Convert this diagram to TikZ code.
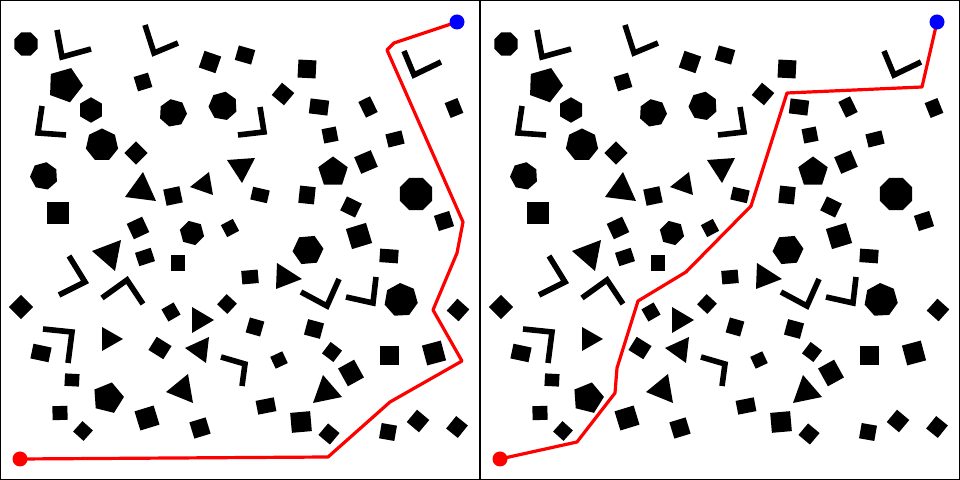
\documentclass[tikz,border=0pt]{standalone}
\newcommand\rpoly[5]{\fill[shift={(#1,#2)}] (#5:#4) \foreach \k in {1,...,#3}{ -- ({#5+\k*360/#3}:#4)} -- cycle;}
\newcommand\rr[5]{\fill[shift={(#1,#2)},rotate=-#5] (-#3/2,-#4/2) rectangle (#3/2,#4/2);}
\newcommand\tri[3]{\fill (#1) -- (#2) -- (#3) -- cycle;}
\newcommand\lsh[3]{\draw[lbar] (#1) -- (#2) -- (#3);}
\newcommand\obstacles{%
\rpoly{26}{44}{8}{12.5}{22.5}
\rpoly{65}{85}{5}{18}{-70}
\rpoly{91}{110}{6}{12.7}{-90}
\rpoly{173}{113}{7}{14}{-100}
\rpoly{223}{106}{7}{14.5}{-80}
\rpoly{102}{145}{7}{16.5}{-90}
\rpoly{44}{176}{7}{14}{-80}
\rpoly{192}{233}{6}{12.5}{15}
\rpoly{308}{250}{6}{15.5}{-5}
\rpoly{333}{172}{5}{15.5}{-90}
\rpoly{416}{194}{8}{17.5}{22.5}
\rpoly{401}{300}{7}{17}{-93}
\rpoly{108}{398}{5}{16}{-76}
\rr{210}{62}{17.6}{17.6}{19}
\rr{143}{82}{15}{15}{-17}
\rr{136}{153}{16.5}{16.5}{45}
\rr{58}{213}{22}{22}{0}
\rr{173}{196}{16.5}{16.5}{-12}
\rr{138}{228}{17}{17}{-25}
\rr{230}{228}{13.5}{13.5}{-28}
\rr{245}{55}{17}{15}{16}
\rr{307}{69}{18}{18}{3}
\rr{283}{94}{16}{16}{40}
\rr{319}{107}{18.7}{15}{7}
\rr{368}{107}{13}{17.5}{-26}
\rr{330}{135}{14.5}{14.5}{-11}
\rr{395}{139}{16.5}{13.5}{-14}
\rr{454}{108}{13.7}{16}{-22}
\rr{366}{162}{18}{18}{-23}
\rr{260}{195}{17}{13}{13}
\rr{307}{195}{15.7}{17.3}{6}
\rr{351}{207}{16.5}{15.5}{26}
\rr{444}{221}{16}{16}{-18}
\rr{145}{257}{16.5}{14}{-18}
\rr{178}{263}{14.7}{16.7}{0}
\rr{21}{307}{17}{17}{45}
\rr{171}{312}{14}{14}{-30}
\rr{227}{304}{14}{14}{43}
\rr{41}{353}{18.5}{15}{12}
\rr{160}{348}{17.5}{15.5}{32}
\rr{72}{380}{14.5}{12.5}{3}
\rr{60}{413}{15}{14}{-2}
\rr{147}{418}{20}{20}{-17}
\rr{83}{431}{14}{14}{42}
\rr{200}{428}{17}{17}{-17}
\rr{359}{236}{21}{21}{-17}
\rr{389}{256}{18.5}{13.5}{4}
\rr{250}{277}{16.5}{13.5}{-5}
\rr{255}{327}{15}{15.5}{16}
\rr{314}{329}{16.5}{16}{15}
\rr{458}{310}{16}{16}{42}
\rr{332}{352}{14.3}{14.3}{37}
\rr{279}{360}{13.3}{13}{-25}
\rr{389}{356}{19}{19}{0}
\rr{434}{353}{19.5}{20.5}{-15}
\rr{351}{373}{18.3}{20.3}{-29}
\rr{266}{406}{18.5}{14}{-11}
\rr{301}{422}{20}{20}{-5}
\rr{329}{434}{15}{15}{40}
\rr{388}{432}{15.5}{15.5}{10}
\rr{418}{421}{16}{16}{40}
\rr{457}{427}{15}{16}{39}
\tri{125,197}{143,172}{156,201}
\tri{190,187}{209,172}{213,195}
\tri{227,160}{255,158}{242,183}
\tri{92,251}{121,240}{115,271}
\tri{277,263}{302,279}{276,289}
\tri{192,307}{214,320}{192,333}
\tri{102,327}{123,339}{102,351}
\tri{185,348}{209,337}{206,363}
\tri{166,392}{188,374}{193,403}
\tri{323,375}{342,397}{313,403}
\lsh{57,30}{62,57}{91,49}
\lsh{145,25}{154,53}{178,43}
\lsh{260,107}{264,132}{238,135}
\lsh{42,106}{38,133}{66,135}
\lsh{69,256}{85,282}{59,295}
\lsh{102,298}{127,280}{143,304}
\lsh{43,329}{72,332}{68,363}
\lsh{221,357}{245,364}{242,386}
\lsh{301,292}{327,306}{339,279}
\lsh{346,297}{373,303}{376,277}
\lsh{404,51}{414,75}{441,62}
}
\begin{document}
\begin{tikzpicture}[x=0.5pt,y=-0.5pt,
  lbar/.style={line width=2.8pt,line join=miter,line cap=butt},
  route/.style={red,line width=1.6pt,line join=round},
  frame/.style={line width=1pt}]
\useasboundingbox (0,0) rectangle (960,480);
% left panel
\obstacles
\draw[frame] (0,0) rectangle (480,480);
\coordinate (ls) at (20,459);
\coordinate (lg) at (457,22);
\draw[route] (ls) -- (328,457) -- (390,402) -- (462,361) -- (433,310) -- (457,253) -- (463,222) -- (387,50) -- (394,43) -- (lg);
\fill[red] (ls) circle[radius=3.75pt];
\fill[blue] (lg) circle[radius=3.75pt];
% right panel
\begin{scope}[shift={(480,0)}]
\obstacles
\draw[frame] (0,0) rectangle (480,480);
\coordinate (rs) at (20,459);
\coordinate (rg) at (457,22);
\draw[route] (rs) -- (97,442) -- (135,393) -- (137,368) -- (158,301) -- (206,272) -- (271,206) -- (307,93) -- (442,87) -- (rg);
\fill[red] (rs) circle[radius=3.75pt];
\fill[blue] (rg) circle[radius=3.75pt];
\end{scope}
\end{tikzpicture}
\end{document}
